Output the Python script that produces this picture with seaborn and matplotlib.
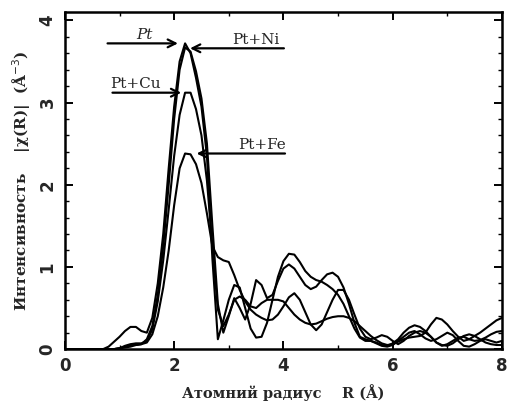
import numpy as np
import pandas as pd
import matplotlib
matplotlib.use("Agg")
import matplotlib.pyplot as plt
import seaborn as sns
from matplotlib.ticker import MultipleLocator

# ---- data ----
R = np.round(np.arange(0, 8.01, 0.1), 1)

pt = [0, 0, 0, 0, 0, 0, 0, 0,
      0.03, 0.09, 0.15, 0.22, 0.27, 0.27, 0.22, 0.20, 0.38, 0.80, 1.40, 2.20,
      2.95, 3.50, 3.72, 3.60, 3.30, 2.95, 2.35, 1.10, 0.12, 0.35,
      0.60, 0.78, 0.75, 0.50, 0.25, 0.14, 0.15, 0.32, 0.60, 0.88,
      1.07, 1.16, 1.15, 1.06, 0.95, 0.88, 0.84, 0.82, 0.78, 0.73,
      0.66, 0.55, 0.40, 0.25, 0.14, 0.10, 0.10, 0.08, 0.05, 0.04,
      0.07, 0.12, 0.20, 0.26, 0.29, 0.27, 0.22, 0.15, 0.08, 0.04,
      0.06, 0.10, 0.14, 0.15, 0.12, 0.10, 0.11, 0.14, 0.18, 0.21,
      0.22]

pt_ni = [0, 0, 0, 0, 0, 0, 0, 0, 0, 0,
         0.01, 0.03, 0.05, 0.05, 0.06, 0.12, 0.28, 0.66, 1.25, 2.00,
         2.80, 3.40, 3.67, 3.62, 3.38, 3.05, 2.50, 1.50, 0.55, 0.20,
         0.40, 0.62, 0.50, 0.36, 0.55, 0.84, 0.78, 0.62, 0.66, 0.83,
         0.98, 1.03, 0.98, 0.88, 0.78, 0.73, 0.76, 0.84, 0.91, 0.93,
         0.88, 0.75, 0.55, 0.32, 0.15, 0.12, 0.10, 0.07, 0.04, 0.03,
         0.05, 0.10, 0.15, 0.20, 0.22, 0.18, 0.13, 0.10, 0.12, 0.16,
         0.20, 0.17, 0.10, 0.04, 0.03, 0.06, 0.10, 0.12, 0.10, 0.08,
         0.10]

pt_cu = [0, 0, 0, 0, 0, 0, 0, 0, 0, 0,
         0.01, 0.04, 0.06, 0.07, 0.07, 0.10, 0.24, 0.58, 1.08, 1.70,
         2.35, 2.85, 3.12, 3.12, 2.92, 2.60, 2.05, 1.25, 0.48, 0.28,
         0.42, 0.60, 0.64, 0.60, 0.52, 0.50, 0.56, 0.60, 0.60, 0.60,
         0.58, 0.50, 0.42, 0.36, 0.32, 0.30, 0.31, 0.34, 0.37, 0.39,
         0.40, 0.40, 0.38, 0.34, 0.28, 0.22, 0.16, 0.11, 0.07, 0.05,
         0.06, 0.09, 0.12, 0.14, 0.15, 0.16, 0.20, 0.30, 0.38, 0.36,
         0.30, 0.22, 0.15, 0.10, 0.12, 0.16, 0.20, 0.25, 0.30, 0.35,
         0.38]

pt_fe = [0, 0, 0, 0, 0, 0, 0, 0, 0, 0,
         0.01, 0.02, 0.03, 0.05, 0.06, 0.08, 0.18, 0.40, 0.75, 1.20,
         1.75, 2.20, 2.38, 2.37, 2.25, 2.02, 1.65, 1.25, 1.12, 1.08,
         1.06, 0.90, 0.72, 0.58, 0.48, 0.42, 0.38, 0.35, 0.36, 0.42,
         0.52, 0.63, 0.68, 0.60, 0.45, 0.30, 0.23, 0.30, 0.45, 0.60,
         0.72, 0.72, 0.60, 0.42, 0.25, 0.15, 0.12, 0.14, 0.17, 0.15,
         0.10, 0.06, 0.10, 0.16, 0.20, 0.22, 0.20, 0.15, 0.08, 0.05,
         0.04, 0.07, 0.12, 0.16, 0.18, 0.16, 0.12, 0.08, 0.06, 0.05,
         0.05]

series_names = ["Pt", "Pt+Ni", "Pt+Cu", "Pt+Fe"]
series_vals = [pt, pt_ni, pt_cu, pt_fe]

xticks = [0, 2, 4, 6, 8]
yticks = [0, 1, 2, 3, 4]

df = pd.concat([pd.DataFrame({"R": R, "chi": v, "sample": n})
                for n, v in zip(series_names, series_vals)], ignore_index=True)

# ---- figure ----
sns.set_theme(style="ticks")
plt.rcParams['font.family'] = ['DejaVu Sans']

fig = plt.figure(figsize=(5.07, 4.05), dpi=100)
ax = fig.add_axes([0.128, 0.138, 0.862, 0.832])

sns.lineplot(data=df, x="R", y="chi", hue="sample", units="sample", estimator=None,
             palette=["black"] * 4, linewidth=1.5, legend=False, ax=ax, sort=False)

ax.set_xlim(0, 8)
ax.set_ylim(0, 4.1)
ax.set_xticks(xticks)
ax.set_yticks(yticks)
ax.xaxis.set_minor_locator(MultipleLocator(1))
ax.yaxis.set_minor_locator(MultipleLocator(0.2))
ax.tick_params(which="both", direction="in", top=True, right=True, color="black")
ax.tick_params(which="major", length=6, width=1.4)
ax.tick_params(which="minor", length=3, width=1.0)
ax.tick_params(axis="x", labelsize=12, pad=6)
ax.tick_params(axis="y", labelsize=12, pad=6, labelrotation=90)
for lab in ax.get_xticklabels() + ax.get_yticklabels():
    lab.set_fontweight("bold")
for lab in ax.get_yticklabels():
    lab.set_va("center")
for s in ax.spines.values():
    s.set_linewidth(1.8)
    s.set_color("black")

ax.set_xlabel("Атомний радиус    R (Å)", family="DejaVu Serif", fontsize=10.5,
              fontweight="bold", labelpad=6)
ax.set_ylabel("Интенсивность    |χ(R)|  (Å$^{-3}$)", family="DejaVu Serif",
              fontsize=11, fontweight="bold", labelpad=4)

# ---- annotations ----
aprops = dict(arrowstyle="->", color="black", lw=1.6, mutation_scale=14)
tkw = dict(family="DejaVu Serif", fontsize=11, ha="center", va="bottom")

ax.annotate("", xy=(2.12, 3.72), xytext=(0.73, 3.72), arrowprops=aprops)
ax.text(1.45, 3.74, "Pt", style="italic", **tkw)

ax.annotate("", xy=(2.24, 3.66), xytext=(4.06, 3.66), arrowprops=aprops)
ax.text(3.5, 3.68, "Pt+Ni", **tkw)

ax.annotate("", xy=(2.18, 3.12), xytext=(0.82, 3.12), arrowprops=aprops)
ax.text(1.3, 3.14, "Pt+Cu", **tkw)

ax.annotate("", xy=(2.36, 2.38), xytext=(4.08, 2.38), arrowprops=aprops)
ax.text(3.6, 2.40, "Pt+Fe", **tkw)

fig.savefig("out.png", dpi=100)
